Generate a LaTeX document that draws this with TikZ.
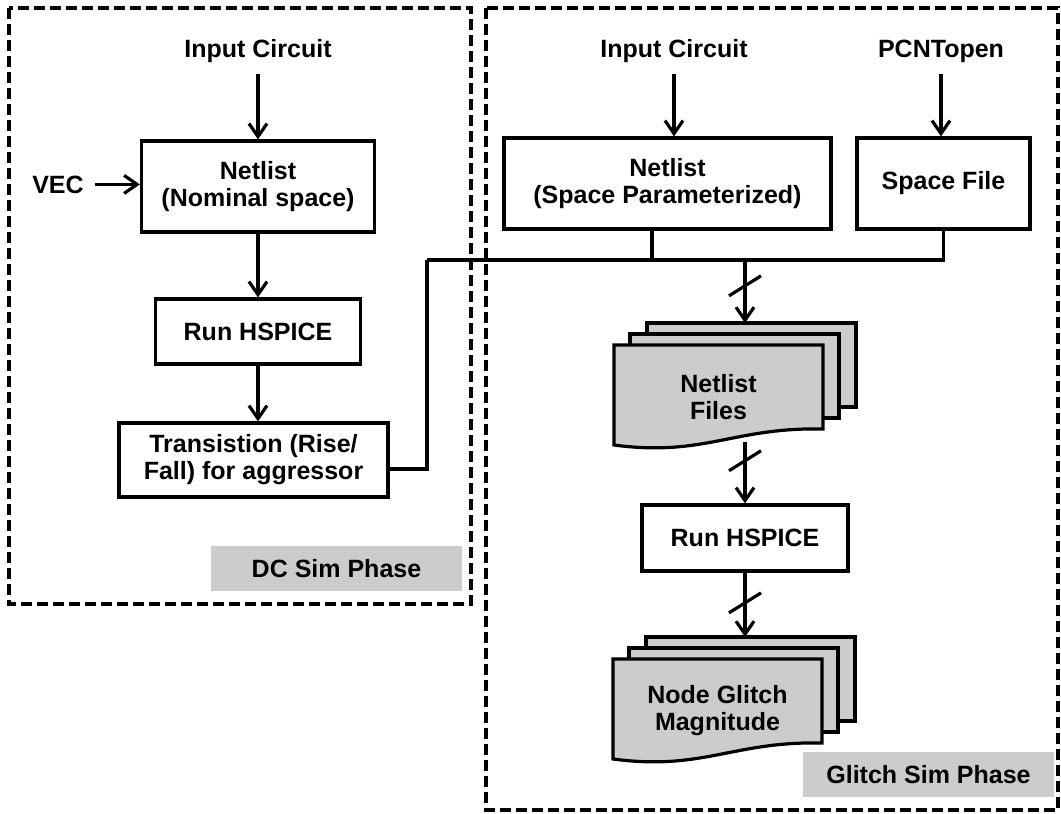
\documentclass[tikz,border=0pt]{standalone}
\usepackage{fontspec}
\setmainfont{Liberation Sans}
\usetikzlibrary{arrows.meta,calc}
\definecolor{docgray}{HTML}{CCCCCC}
\definecolor{phasegray}{HTML}{CCCCCC}
% stack of three pages: name, left x, top y, text
\newcommand{\docstack}[4]{%
  \draw[page] (#2+33,#3-22) rectangle (#2+242,#3+62);
  \draw[page] (#2+16,#3-11) rectangle (#2+225,#3+73);
  \draw[page] (#2,#3) -- (#2+209,#3) -- (#2+209,#3+84)
     .. controls (#2+120,#3+82) and (#2+90,#3+112) .. (#2,#3+100) -- cycle;
  \node[doctext] (#1) at (#2+104.5,#3+52) {#4};
  \coordinate (#1back) at (#2+33,#3-22);
}

\begin{document}
\begin{tikzpicture}[x=0.5pt,y=-0.5pt,
  font=\fontsize{12.5}{13.5}\selectfont\bfseries,
  line width=1.6pt,
  box/.style={draw,align=center,inner sep=0pt},
  lbl/.style={inner sep=5pt,anchor=base},
  flow/.style={-{Straight Barb[length=6.5pt,width=9pt]}},
  page/.style={draw,fill=docgray},
  doctext/.style={align=center,minimum width=104.5pt,minimum height=43pt,inner sep=0pt},
  phaselbl/.style={fill=phasegray,inner sep=0pt,minimum width=125.5pt,minimum height=22.5pt},
  phasebox/.style={draw,line width=1.7pt,dash pattern=on 5.5pt off 2.5pt}]
   \useasboundingbox (0,0) rectangle (1061,814);
   % DC sim phase
   \draw[phasebox] (9,8) rectangle (471,604);
   \node[lbl] (in1) at (258,57) {Input Circuit};
   \node[box,minimum width=116.5pt,minimum height=45.5pt] (net1) at (258,186.5) {Netlist\\(Nominal space)};
   \node[lbl] (vec) at (58,193) {VEC};
   \node[box,minimum width=102.5pt,minimum height=32.5pt] (run1) at (258,331.5) {Run HSPICE};
   \node[box,minimum width=134.5pt,minimum height=37pt] (trans) at (253.5,460) {Transistion (Rise/\\Fall) for aggressor};
   \node[phaselbl] (dcphase) at (336.5,568.5) {DC Sim Phase};
   \draw[flow] (in1) -- (net1);
   \draw[flow] (vec.east) -- (vec.east -| net1.west);
   \draw[flow] (net1) -- (run1);
   \draw[flow] (run1) -- (run1 |- trans.north);
   % glitch sim phase
   \draw[phasebox] (486,8) rectangle (1058,810);
   \node[lbl] (in2) at (674,57) {Input Circuit};
   \node[lbl] (pcn) at (941,57) {PCNTopen};
   \node[box,minimum width=163.5pt,minimum height=45.5pt] (net2) at (667.5,183.5) {Netlist\\(Space Parameterized)};
   \node[box,minimum width=86.5pt,minimum height=45.5pt] (space) at (943.5,183.5) {Space File};
   \docstack{files}{614}{345}{Netlist\\Files}
   \node[box,minimum width=103pt,minimum height=33pt] (run2) at (745,538) {Run HSPICE};
   \docstack{glitch}{613}{659}{Node Glitch\\Magnitude}
   \node[phaselbl] (glitchphase) at (928.5,774.5) {Glitch Sim Phase};
   \draw[flow] (in2) -- (in2 |- net2.north);
   \draw[flow] (pcn) -- (pcn |- space.north);
   % bus
   \coordinate (bus) at (745,260);
   \coordinate (busL) at (427,260);
   \path (bus |- filesback) coordinate (filesin);
   \path (run2 |- files.south) coordinate (filesout);
   \path (run2 |- glitchback) coordinate (glitchin);
   \draw ([yshift=-4.5pt]trans.east) -| (busL);
   \draw (space.south) |- (busL);
   \draw ([xshift=-7.75pt]net2.south) |- (bus);
   \draw[flow] (bus) -- (filesin);
   \draw[flow] (filesout) -- (run2);
   \draw[flow] (run2) -- (glitchin);
   \draw ($(bus)!0.41!(filesin)$) +(-16,10) -- +(16,-10);
   \draw ($(filesout)!0.31!(run2.north)$) +(-16,10) -- +(16,-10);
   \draw ($(run2.south)!0.47!(glitchin)$) +(-16,10) -- +(16,-10);
\end{tikzpicture}
\end{document}
